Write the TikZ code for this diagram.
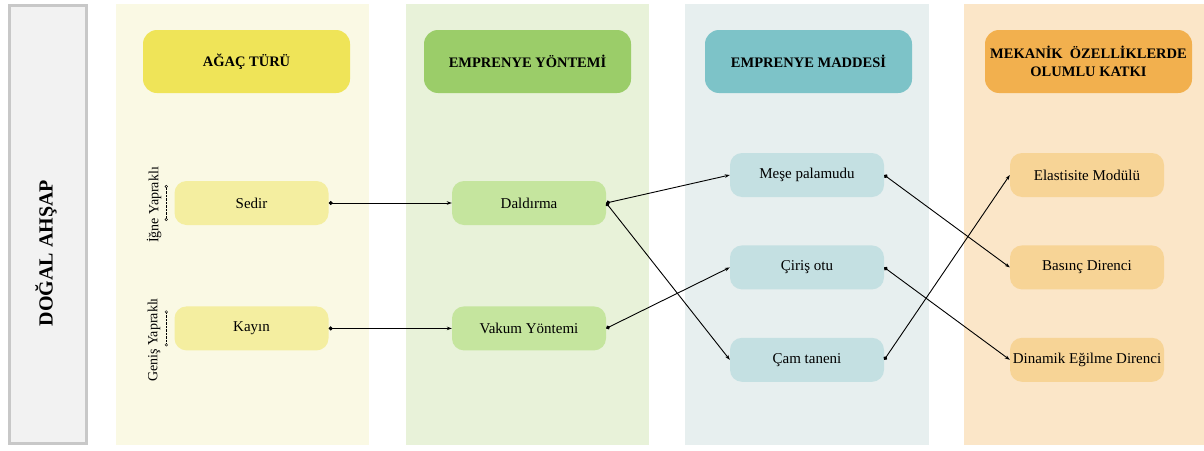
\documentclass[tikz,border=0pt]{standalone}
\usepackage{fontspec}
\setmainfont{Liberation Serif}
\usetikzlibrary{arrows.meta, positioning}

\definecolor{laneA}{RGB}{250,249,228}
\definecolor{headA}{RGB}{239,228,88}
\definecolor{boxA}{RGB}{244,238,160}
\definecolor{laneB}{RGB}{232,242,217}
\definecolor{headB}{RGB}{155,205,105}
\definecolor{boxB}{RGB}{197,229,158}
\definecolor{laneC}{RGB}{231,239,239}
\definecolor{headC}{RGB}{125,195,200}
\definecolor{boxC}{RGB}{196,224,226}
\definecolor{laneD}{RGB}{251,230,200}
\definecolor{headD}{RGB}{242,176,78}
\definecolor{boxD}{RGB}{247,212,150}

\begin{document}
\begin{tikzpicture}[
    x=1pt, y=-1pt,
    head/.style={rounded corners=14pt, minimum width=207pt, minimum height=63pt, align=center, font=\bfseries\fontsize{14.5}{18}\selectfont},
    item/.style={rounded corners=12pt, minimum width=154pt, minimum height=44pt, inner sep=0pt, font=\fontsize{15}{18}\selectfont},
    side/.style={rotate=90, font=\fontsize{14}{16}\selectfont},
    bracket/.style={densely dotted, {Circle[open, length=3pt]}-{Circle[open, length=3pt]}},
    arrow/.style={{Circle[length=4pt]}-{Stealth[length=5pt, width=3.5pt]}, line width=0.9pt},
    node distance=81pt
]
\useasboundingbox (0,0) rectangle (1204,450);

% Lanes
\fill[laneA] (116,4) rectangle (369,445);
\fill[laneB] (406,4) rectangle (649,445);
\fill[laneC] (685,4) rectangle (929,445);
\fill[laneD] (964,4) rectangle (1204,445);

\node[draw={rgb,255:red,200;green,200;blue,200}, line width=3pt, fill={rgb,255:red,242;green,242;blue,242}, minimum width=77pt, minimum height=438pt] (dogal) at (48,224.5) {};
\node[rotate=90, font=\bfseries\fontsize{20}{24}\selectfont] (dogaltext) at (46,253) {DOĞAL AHŞAP};

% Headers
\node[head, fill=headA] (agac) at (246.5,61.5) {AĞAÇ TÜRÜ};
\node[head, fill=headB] (yontem) at (527.5,61.5) {EMPRENYE YÖNTEMİ};
\node[head, fill=headC] (madde) at (808.5,61.5) {EMPRENYE MADDESİ};
\node[head, fill=headD] (katki) at (1088.5,61.5) {MEKANİK\ \ ÖZELLİKLERDE\\OLUMLU KATKI};

% Nodes
\node[item, fill=boxA] (sedir) at (251.5,203) {Sedir};
\node[item, fill=boxA] (kayin) [below=of sedir] {Kayın};
\node[item, fill=boxB] (daldirma) at (529,203) {Daldırma};
\node[item, fill=boxB] (vakum) [below=of daldirma] {Vakum Yöntemi};
\node[item, fill=boxC] (mese) at (807,175) {Meşe palamudu};
\node[item, fill=boxC] (ciris) [below=48pt of mese] {Çiriş otu};
\node[item, fill=boxC] (cam) [below=48pt of ciris] {Çam taneni};
\node[item, fill=boxD] (elastisite) at (1087,175) {Elastisite Modülü};
\node[item, fill=boxD] (basinc) [below=48pt of elastisite] {Basınç Direnci};
\node[item, fill=boxD] (dinamik) [below=48pt of basinc] {Dinamik Eğilme Direnci};

% Side labels
\node[side] (igne) at (154,205) {İğne Yapraklı};
\node[side] (genis) at (154,340) {Geniş Yapraklı};
\draw[bracket] ([xshift=-8pt, yshift=18pt]sedir.west) -- ([xshift=-8pt, yshift=-18pt]sedir.west);
\draw[bracket] ([xshift=-8pt, yshift=18pt]kayin.west) -- ([xshift=-8pt, yshift=-18pt]kayin.west);

% Arrows
\draw[arrow] (sedir.east) -- (daldirma.west);
\draw[arrow] (kayin.east) -- (vakum.west);
\draw[arrow] (daldirma.east) -- (mese.west);
\draw[arrow] (daldirma.east) -- (cam.west);
\draw[arrow] (vakum.east) -- (ciris.west);
\draw[arrow] (mese.east) -- (basinc.west);
\draw[arrow] (ciris.east) -- (dinamik.west);
\draw[arrow] (cam.east) -- (elastisite.west);

\end{tikzpicture}
\end{document}
